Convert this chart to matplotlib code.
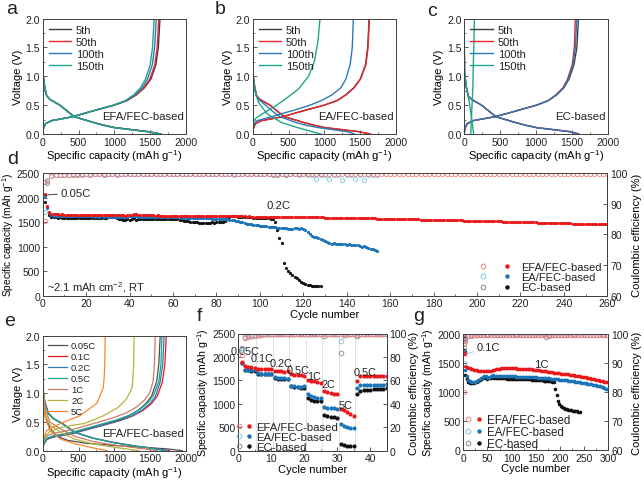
import matplotlib
matplotlib.use('Agg')
import matplotlib.pyplot as plt
from matplotlib.lines import Line2D
from matplotlib.legend_handler import HandlerTuple
from matplotlib.ticker import MultipleLocator, FormatStrFormatter

plt.rcParams['font.family'] = ['Liberation Sans', 'DejaVu Sans']
plt.rcParams['mathtext.default'] = 'regular'
plt.rcParams['axes.linewidth'] = 0.7
plt.rcParams['axes.edgecolor'] = '#404040'
plt.rcParams['xtick.color'] = '#404040'
plt.rcParams['ytick.color'] = '#404040'
plt.rcParams['text.color'] = '#222222'
plt.rcParams['xtick.labelcolor'] = '#222222'
plt.rcParams['ytick.labelcolor'] = '#222222'

TICK_FS = 7.5
LAB_FS = 8.0

# ---------------- panels a-c : voltage profiles ----------------
cyc_labels = ['5th', '50th', '100th', '150th']
cyc_colors = ['#3d3d3d', '#e8262b', '#2a7ab9', '#1fa58a']

dis_v_std = [1.5, 1.05, 0.8, 0.66, 0.6, 0.5, 0.4, 0.3, 0.2, 0.15, 0.11, 0.07, 0.04, 0.0]
chg_v_std = [0.02, 0.1, 0.18, 0.23, 0.26, 0.3, 0.35, 0.42, 0.5, 0.58, 0.68, 0.8, 0.95, 1.2, 1.5, 2.0]

a_dis_cap = [[0, 3, 30, 56, 100, 240, 340, 440, 710, 860, 1010, 1280, 1480, 1650],
             [0, 3, 30, 56, 100, 240, 340, 440, 710, 860, 1010, 1280, 1475, 1645],
             [0, 3, 30, 56, 100, 238, 338, 438, 705, 855, 1005, 1270, 1465, 1635],
             [0, 3, 30, 56, 100, 236, 335, 435, 700, 850, 995, 1260, 1455, 1625]]
a_dis_v = [dis_v_std, dis_v_std, dis_v_std, dis_v_std]
a_chg_cap = [[0, 10, 40, 120, 250, 420, 560, 760, 1000, 1180, 1310, 1420, 1510, 1580, 1614, 1637],
             [0, 10, 40, 120, 250, 420, 560, 760, 1000, 1178, 1305, 1410, 1495, 1565, 1598, 1620],
             [0, 10, 40, 120, 250, 420, 560, 760, 995, 1170, 1290, 1390, 1462, 1530, 1562, 1585],
             [0, 10, 40, 120, 250, 420, 560, 755, 985, 1155, 1272, 1365, 1435, 1500, 1533, 1555]]
a_chg_v = [chg_v_std, chg_v_std, chg_v_std, chg_v_std]

b_dis_cap = [[0, 3, 30, 56, 100, 240, 340, 440, 710, 860, 1010, 1280, 1480, 1640],
             [0, 3, 30, 56, 100, 240, 340, 440, 712, 865, 1015, 1285, 1485, 1645],
             [0, 3, 25, 50, 80, 180, 270, 380, 600, 750, 920, 1150, 1320, 1420],
             [0, 5, 30, 80, 200, 400, 600, 800, 950]]
b_dis_v = [dis_v_std, dis_v_std, dis_v_std, [1.3, 1.0, 0.75, 0.55, 0.35, 0.2, 0.12, 0.05, 0.0]]
b_chg_cap = [[0, 10, 40, 120, 250, 420, 560, 760, 1000, 1180, 1300, 1410, 1500, 1575, 1605, 1625],
             [0, 10, 40, 120, 250, 420, 560, 760, 1000, 1180, 1305, 1415, 1505, 1580, 1610, 1628],
             [0, 5, 20, 60, 150, 270, 400, 600, 800, 960, 1110, 1230, 1300, 1360, 1390, 1405],
             [0, 50, 150, 300, 450, 640, 780, 860, 910, 940]]
b_chg_v = [chg_v_std, chg_v_std, chg_v_std, [0.2, 0.28, 0.36, 0.47, 0.6, 0.78, 1.0, 1.25, 1.6, 2.0]]

c_dis_cap = [[0, 3, 30, 56, 100, 240, 340, 440, 710, 860, 1010, 1280, 1480, 1600],
             [0, 3, 30, 56, 100, 240, 340, 440, 710, 860, 1010, 1275, 1470, 1590],
             [0, 3, 30, 56, 100, 240, 340, 440, 710, 860, 1010, 1278, 1475, 1595],
             [0, 3, 30, 70, 100, 120, 130]]
c_dis_v = [dis_v_std, dis_v_std, dis_v_std, [1.8, 1.1, 0.8, 0.55, 0.3, 0.1, 0.0]]
c_chg_cap = [[0, 10, 40, 120, 250, 430, 580, 780, 1010, 1175, 1290, 1390, 1460, 1530, 1570, 1592],
             [0, 10, 40, 120, 250, 430, 580, 780, 1010, 1170, 1280, 1375, 1440, 1505, 1535, 1548],
             [0, 10, 40, 120, 250, 430, 580, 780, 1010, 1172, 1285, 1382, 1450, 1515, 1550, 1568],
             [90, 100, 110, 118, 126, 134, 140]]
c_chg_v = [chg_v_std, chg_v_std, chg_v_std, [0.0, 0.3, 0.55, 0.75, 1.2, 1.6, 2.0]]

# ---------------- panel e : rate profiles ----------------
e_labels = ['0.05C', '0.1C', '0.2C', '0.5C', '1C', '2C', '5C']
e_colors = ['#4d4d4d', '#e41a1c', '#2c7bb6', '#1aa391', '#c97b63', '#b8b13a', '#f7882f']
e_chg_v = [[0.02, 0.12, 0.2, 0.24, 0.27, 0.31, 0.37, 0.44, 0.52, 0.6, 0.7, 0.82, 0.95, 1.2, 1.5, 2.0],
           [0.02, 0.12, 0.2, 0.24, 0.27, 0.31, 0.37, 0.44, 0.52, 0.6, 0.7, 0.82, 0.95, 1.2, 1.5, 2.0],
           [0.02, 0.12, 0.2, 0.24, 0.27, 0.31, 0.37, 0.44, 0.52, 0.6, 0.7, 0.82, 0.95, 1.2, 1.5, 2.0],
           [0.04, 0.14, 0.22, 0.26, 0.29, 0.33, 0.39, 0.46, 0.54, 0.62, 0.72, 0.84, 0.97, 1.2, 1.5, 2.0],
           [0.08, 0.18, 0.26, 0.3, 0.33, 0.37, 0.43, 0.5, 0.58, 0.66, 0.76, 0.88, 1.0, 1.2, 1.5, 2.0],
           [0.12, 0.25, 0.33, 0.4, 0.44, 0.47, 0.54, 0.61, 0.75, 0.9, 1.1, 1.5, 2.0],
           [0.2, 0.35, 0.47, 0.61, 0.82, 1.1, 1.31, 1.6, 2.0]]
e_chg_cap = [[0, 15, 60, 150, 280, 430, 600, 800, 1020, 1190, 1330, 1440, 1520, 1590, 1620, 1640],
             [0, 15, 60, 150, 290, 450, 630, 840, 1070, 1250, 1400, 1520, 1600, 1670, 1705, 1725],
             [0, 15, 60, 150, 285, 445, 620, 830, 1055, 1235, 1380, 1495, 1575, 1640, 1675, 1695],
             [0, 15, 60, 150, 280, 440, 610, 815, 1040, 1215, 1360, 1470, 1550, 1620, 1650, 1665],
             [0, 15, 60, 150, 270, 420, 590, 790, 1000, 1170, 1310, 1420, 1490, 1540, 1560, 1570],
             [0, 30, 100, 250, 400, 570, 720, 850, 1050, 1170, 1250, 1270, 1275],
             [0, 56, 242, 521, 753, 846, 860, 868, 872]]
e_dis_v = [[1.0, 0.6, 0.4, 0.25, 0.18, 0.13, 0.09, 0.06, 0.03, 0.0],
           [1.1, 0.85, 0.65, 0.56, 0.47, 0.32, 0.22, 0.14, 0.08, 0.04, 0.0],
           [1.1, 0.85, 0.65, 0.56, 0.47, 0.32, 0.22, 0.14, 0.08, 0.04, 0.0],
           [1.1, 0.85, 0.65, 0.56, 0.47, 0.32, 0.22, 0.14, 0.08, 0.04, 0.0],
           [1.0, 0.7, 0.5, 0.38, 0.25, 0.16, 0.1, 0.05, 0.0],
           [1.0, 0.6, 0.45, 0.32, 0.2, 0.12, 0.06, 0.0],
           [1.8, 1.2, 0.6, 0.35, 0.2, 0.12, 0.05, 0.0]]
e_dis_cap = [[0, 40, 100, 200, 350, 600, 1000, 1400, 1750, 1950],
             [0, 30, 80, 150, 280, 450, 700, 1000, 1300, 1550, 1770],
             [0, 30, 80, 150, 280, 450, 700, 1000, 1300, 1540, 1745],
             [0, 25, 75, 140, 270, 440, 690, 990, 1290, 1510, 1700],
             [0, 40, 100, 250, 450, 700, 1000, 1300, 1600],
             [0, 40, 100, 250, 450, 700, 1000, 1350],
             [0, 5, 30, 100, 250, 450, 700, 900]]

# ---------------- series names / colours ----------------
ser_labels = ['EFA/FEC-based', 'EA/FEC-based', 'EC-based']
ser_fill = ['#e8191c', '#1a74b8', '#111111']
ser_open = ['#ef7f7f', '#80c3de', '#8a8a8a']

# ---------------- panel d : long cycling at 0.2C ----------------
d_cap_efa = [2080, 1820, 1700, 1668, 1660, 1655, 1657, 1652, 1655, 1650, 1652, 1648, 1650, 1647, 1650, 1646, 1648, 1645, 1647, 1644,
             1646, 1643, 1645, 1642, 1644, 1641, 1643, 1640, 1642, 1640, 1641, 1639, 1641, 1638, 1640, 1638, 1635, 1630, 1640, 1645,
             1650, 1660, 1655, 1642, 1638, 1637, 1638, 1636, 1637, 1635, 1636, 1634, 1635, 1633, 1634, 1632, 1633, 1631, 1632, 1630,
             1631, 1629, 1630, 1628, 1629, 1627, 1628, 1626, 1627, 1625, 1626, 1624, 1625, 1623, 1624, 1622, 1623, 1621, 1622, 1620,
             1621, 1619, 1620, 1618, 1619, 1617, 1618, 1616, 1617, 1615, 1616, 1614, 1615, 1613, 1614, 1612, 1613, 1611, 1612, 1610,
             1611, 1609, 1610, 1608, 1609, 1607, 1608, 1606, 1607, 1605, 1606, 1604, 1605, 1603, 1604, 1602, 1603, 1601, 1602, 1600,
             1600, 1598, 1599, 1597, 1598, 1596, 1596, 1594, 1595, 1593, 1593, 1591, 1592, 1590, 1590, 1588, 1589, 1587, 1587, 1585,
             1585, 1583, 1584, 1582, 1582, 1580, 1580, 1578, 1578, 1576, 1576, 1574, 1574, 1572, 1572, 1570, 1570, 1568, 1568, 1566,
             1565, 1564, 1563, 1562, 1561, 1560, 1559, 1558, 1557, 1556, 1555, 1554, 1553, 1552, 1551, 1550, 1549, 1548, 1547, 1546,
             1545, 1544, 1543, 1542, 1541, 1540, 1539, 1538, 1537, 1536, 1535, 1534, 1533, 1532, 1531, 1530, 1529, 1528, 1527, 1526,
             1525, 1524, 1523, 1521, 1520, 1519, 1518, 1516, 1515, 1514, 1513, 1511, 1510, 1509, 1508, 1506, 1505, 1504, 1503, 1501,
             1500, 1499, 1498, 1496, 1495, 1494, 1493, 1491, 1490, 1489, 1488, 1486, 1485, 1484, 1483, 1481, 1480, 1479, 1478, 1476,
             1475, 1474, 1473, 1471, 1470, 1469, 1468, 1466, 1465, 1464, 1463, 1461, 1460, 1459, 1458, 1456, 1455, 1454, 1453, 1451]
d_cap_ea = [2040, 1790, 1680, 1640, 1632, 1628, 1630, 1625, 1627, 1622, 1625, 1620, 1623, 1618, 1622, 1617, 1620, 1616, 1619, 1615,
            1618, 1614, 1617, 1613, 1616, 1612, 1615, 1611, 1614, 1610, 1613, 1609, 1612, 1608, 1611, 1607, 1610, 1606, 1612, 1620,
            1625, 1615, 1622, 1610, 1612, 1608, 1611, 1607, 1610, 1606, 1609, 1605, 1608, 1604, 1607, 1603, 1605, 1600, 1602, 1598,
            1598, 1595, 1596, 1592, 1593, 1590, 1590, 1586, 1587, 1583, 1583, 1580, 1580, 1577, 1577, 1574, 1574, 1571, 1571, 1568,
            1566, 1562, 1560, 1556, 1554, 1550, 1548, 1540, 1530, 1520, 1505, 1495, 1480, 1470, 1465, 1455, 1445, 1440, 1432, 1426,
            1420, 1415, 1410, 1405, 1400, 1395, 1390, 1385, 1380, 1375, 1378, 1372, 1368, 1365, 1362, 1370, 1375, 1368, 1372, 1360,
            1330, 1290, 1250, 1220, 1200, 1190, 1170, 1150, 1130, 1110, 1090, 1080, 1060, 1065, 1050, 1055, 1045, 1060, 1050, 1040,
            1045, 1035, 1040, 1030, 1025, 1010, 1000, 1005, 990, 975, 960, 945, 930, 915]
d_cap_ec = [1900, 1800, 1650, 1610, 1598, 1595, 1592, 1594, 1590, 1592, 1589, 1591, 1588, 1590, 1587, 1589, 1586, 1588, 1585, 1587,
            1585, 1587, 1584, 1586, 1583, 1585, 1584, 1586, 1583, 1600, 1610, 1620, 1600, 1590, 1570, 1560, 1545, 1550, 1555, 1540,
            1560, 1575, 1550, 1560, 1565, 1558, 1562, 1556, 1560, 1555, 1558, 1562, 1560, 1564, 1566, 1568, 1570, 1572, 1568, 1565,
            1560, 1555, 1548, 1540, 1530, 1520, 1512, 1505, 1500, 1496, 1493, 1490, 1490, 1488, 1490, 1487, 1490, 1492, 1488, 1495,
            1498, 1502, 1505, 1520, 1560, 1610, 1620, 1622, 1615, 1612, 1608, 1605, 1602, 1600, 1598, 1595, 1592, 1590, 1588, 1585,
            1583, 1580, 1578, 1575, 1570, 1560, 1500, 1330, 1180, 1070, 660, 560, 510, 463, 422, 388, 354, 320, 286, 259,
            238, 225, 211, 204, 198, 193, 190, 190]
# coulombic efficiency (cycles 1, 2, then every 2nd cycle from 4)
d_ce_efa = [84.5, 97.5,
            99.1, 99.3, 99.4, 99.5, 99.5, 99.6, 99.5, 99.6, 99.6, 99.5, 99.6, 99.7, 99.6, 99.6, 99.7, 99.5, 99.6, 99.7, 99.6, 99.7,
            99.6, 99.7, 99.7, 99.6, 99.7, 99.8, 99.7, 99.6, 99.7, 99.7, 99.8, 99.7, 99.7, 99.8, 99.6, 99.7, 99.8, 99.7, 99.7, 99.8,
            99.7, 99.8, 99.7, 99.7, 99.8, 99.7, 99.8, 99.8, 99.7, 99.8, 99.7, 99.8, 99.8, 99.7, 99.8, 99.8, 99.7, 99.8, 99.8, 99.7,
            99.8, 99.8, 99.7, 99.8, 99.8, 99.8, 99.7, 99.8, 99.8, 99.8, 99.7, 99.8, 99.8, 99.8, 99.8, 99.7, 99.8, 99.8, 99.8, 99.8,
            99.8, 99.7, 99.8, 99.8, 99.8, 99.8, 99.8, 99.7, 99.8, 99.8, 99.8, 99.8, 99.8, 99.8, 99.7, 99.8, 99.8, 99.8, 99.8, 99.8,
            99.8, 99.8, 99.7, 99.8, 99.8, 99.8, 99.8, 99.8, 99.8, 99.7, 99.8, 99.8, 99.8, 99.8, 99.8, 99.8, 99.8, 99.8, 99.7, 99.8,
            99.8, 99.8, 99.8, 99.8, 99.8, 99.8, 99.8, 99.8, 99.8]
d_ce_ea = [87.2, 97.8,
           99.0, 99.2, 99.4, 99.5, 99.5, 99.6, 99.5, 99.6, 99.6, 99.7, 99.6, 99.6, 99.7, 99.6, 99.7, 99.6, 99.7, 99.7, 99.6, 99.7,
           99.7, 99.6, 99.7, 99.7, 99.7, 99.6, 99.7, 99.7, 99.7, 99.6, 99.7, 99.7, 99.6, 99.7, 99.7, 99.7, 99.6, 99.7, 99.7, 99.7,
           99.6, 99.7, 99.5, 99.7, 99.7, 99.6, 99.7, 99.7, 99.6, 99.7, 99.6, 99.7, 99.6, 99.7, 99.6, 99.7, 99.6, 99.5, 99.6, 99.5,
           99.5, 97.9, 99.4, 99.5, 98.1, 99.5, 99.4, 97.8, 99.5, 99.4, 98.0, 99.4, 97.7, 99.5, 99.4, 99.3]
d_ce_ec = [97.0, 96.6,
           99.0, 99.2, 99.3, 99.4, 99.5, 99.5, 99.6, 99.5, 99.6, 99.5, 99.6, 99.6, 99.5, 99.6, 99.6, 99.7, 99.6, 99.6, 99.7, 99.6,
           99.6, 99.7, 99.6, 99.7, 99.6, 99.7, 99.7, 99.6, 99.7, 99.7, 99.6, 99.7, 99.7, 99.7, 99.6, 99.7, 99.7, 99.8, 99.7, 99.7,
           99.7, 99.7, 99.6, 99.7, 99.7, 99.7, 99.6, 99.7, 99.7, 99.7, 99.6, 99.5, 99.3, 99.8, 99.5, 99.7, 99.8, 99.8, 99.7, 99.8,
           99.8, 99.7, 99.8]

# ---------------- panel f : rate capability ----------------
f_rate_names = ['0.05C', '0.1C', '0.2C', '0.5C', '1C', '2C', '5C', '0.5C']
f_rate_x = [2.0, 7.2, 13.0, 18.2, 23.0, 27.4, 32.4, 38.3]
f_rate_y = [2130, 1970, 1865, 1730, 1600, 1425, 975, 1670]
f_bounds = [5.5, 10.5, 15.5, 20.5, 25.5, 30.5, 35.5]
f_cap_efa = [1900, 1800, 1790, 1780, 1770, 1750, 1745, 1745, 1745, 1750, 1700, 1690, 1690, 1680, 1700,
             1630, 1620, 1610, 1610, 1600, 1500, 1490, 1480, 1460, 1440, 1280, 1260, 1240, 1220, 1210,
             880, 860, 830, 790, 750, 1490, 1590, 1592, 1595, 1590, 1595, 1595, 1598, 1595, 1600]
f_cap_ea = [1880, 1730, 1730, 1725, 1720, 1650, 1645, 1640, 1640, 1640, 1570, 1560, 1550, 1545, 1540,
            1390, 1375, 1365, 1360, 1385, 1200, 1160, 1140, 1125, 1120, 940, 920, 910, 905, 900,
            560, 520, 500, 490, 480, 1340, 1400, 1405, 1405, 1410, 1410, 1405, 1410, 1410, 1415]
f_cap_ec = [1870, 1720, 1720, 1710, 1710, 1645, 1640, 1635, 1635, 1630, 1550, 1540, 1530, 1525, 1520,
            1380, 1360, 1350, 1340, 1340, 1120, 1090, 1070, 1060, 1050, 760, 730, 720, 710, 700,
            150, 120, 110, 110, 110, 1210, 1280, 1290, 1290, 1300, 1310, 1320, 1320, 1325, 1330]
f_ce_efa = [82.0, 96.5, 97.3, 97.8, 98.2, 98.8, 99.1, 99.2, 99.3, 99.3, 99.2, 99.4, 99.5, 99.5, 99.5,
            99.3, 99.5, 99.6, 99.6, 99.6, 99.4, 99.6, 99.7, 99.7, 99.7, 99.5, 99.7, 99.7, 99.8, 99.8,
            99.4, 99.8, 99.8, 99.8, 99.8, 98.8, 99.5, 99.6, 99.6, 99.7, 99.7, 99.7, 99.7, 99.7, 99.7]
f_ce_ea = [85.5, 97.0, 97.8, 98.2, 98.5, 98.9, 99.1, 99.2, 99.3, 99.3, 99.2, 99.4, 99.4, 99.5, 99.5,
           99.3, 99.5, 99.5, 99.6, 99.6, 99.3, 99.6, 99.6, 99.7, 99.7, 99.4, 99.6, 99.7, 99.7, 99.7,
           94.0, 99.6, 99.7, 99.7, 99.8, 98.5, 99.4, 99.5, 99.6, 99.6, 99.6, 99.7, 99.7, 99.7, 99.7]
f_ce_ec = [88.0, 97.4, 98.0, 98.4, 98.6, 99.0, 99.2, 99.3, 99.3, 99.4, 99.2, 99.4, 99.5, 99.5, 99.5,
           99.2, 99.5, 99.5, 99.6, 99.6, 99.2, 99.5, 99.6, 99.6, 99.6, 97.8, 99.5, 99.6, 99.6, 99.7,
           83.0, 99.0, 99.4, 99.5, 99.5, 98.0, 99.3, 99.5, 99.5, 99.6, 99.6, 99.6, 99.7, 99.7, 99.7]

# ---------------- panel g : 1C cycling (cycles 1-3, then every 3rd cycle from 4) ----------------
g_cap_efa = [1900, 1680, 1650,
             1440, 1430, 1420, 1410, 1400, 1392, 1386, 1380, 1374, 1369, 1366, 1363, 1360, 1358, 1358, 1359, 1362,
             1366, 1370, 1376, 1382, 1388, 1395, 1400, 1405, 1408, 1410, 1411, 1412, 1412, 1411, 1411, 1410,
             1409, 1408, 1407, 1405, 1404, 1402, 1400, 1399, 1397, 1396, 1394, 1392, 1390, 1388, 1386, 1383, 1380,
             1377, 1374, 1370, 1367, 1363, 1359, 1355, 1351, 1347, 1343, 1340, 1336, 1332, 1328, 1324, 1320,
             1318, 1315, 1312, 1309, 1306, 1303, 1300, 1296, 1291, 1287, 1282, 1278, 1273, 1269, 1264, 1260, 1255,
             1251, 1246, 1242, 1237, 1232, 1226, 1220, 1214, 1208, 1200, 1194, 1188, 1182, 1176, 1170, 1164]
g_cap_ea = [1880, 1700, 1670,
            1380, 1280, 1210, 1185, 1175, 1170, 1172, 1178, 1188, 1200, 1220, 1240, 1260, 1280, 1270, 1255, 1250,
            1258, 1280, 1295, 1280, 1270, 1268, 1270, 1272, 1274, 1275, 1275, 1274, 1273, 1272, 1271, 1270,
            1269, 1268, 1267, 1267, 1266, 1265, 1265, 1264, 1263, 1262, 1261, 1260, 1259, 1258, 1256, 1254, 1252,
            1250, 1248, 1246, 1244, 1242, 1240, 1238, 1236, 1234, 1232, 1230, 1227, 1224, 1221, 1218, 1215,
            1212, 1209, 1206, 1203, 1200, 1197, 1194, 1190, 1186, 1182, 1178, 1174, 1170, 1166, 1162, 1158, 1154,
            1150, 1145, 1140, 1135, 1130, 1125, 1120, 1114, 1108, 1102, 1096, 1090, 1080, 1070, 1060, 1050]
g_cap_ec = [1950, 1720, 1690,
            1300, 1220, 1165, 1150, 1148, 1150, 1155, 1165, 1175, 1190, 1205, 1220, 1235, 1265, 1245, 1232, 1235,
            1240, 1250, 1255, 1245, 1240, 1238, 1237, 1236, 1235, 1235, 1234, 1233, 1232, 1231, 1230, 1230,
            1229, 1228, 1228, 1227, 1226, 1225, 1224, 1223, 1222, 1221, 1220, 1218, 1216, 1214, 1212, 1210, 1208,
            1206, 1204, 1202, 1200, 1198, 1196, 1194, 1192, 1188, 1184, 1178, 1170, 1060, 940, 850, 790,
            760, 740, 725, 712, 702, 694, 688, 682, 677, 672, 668, 664, 660, 657]
# coulombic efficiency (cycles 1-3, then every 6th cycle from 4)
g_ce_efa = [80.0, 96.5, 97.5,
            99.0, 99.4, 99.6, 99.7, 99.7, 99.8, 99.7, 99.8, 99.8, 99.8, 99.8, 99.8, 99.7, 99.8, 99.8, 99.8, 99.8,
            99.8, 99.8, 99.7, 99.8, 99.8, 99.8, 99.8, 99.8, 99.8, 99.8, 99.8, 99.7, 99.8, 99.8, 99.8, 99.8, 99.8,
            99.8, 99.8, 99.8, 99.7, 99.8, 99.8, 99.8, 99.8, 99.8, 99.8, 99.8, 99.8, 99.8, 99.8, 99.8, 99.8]
g_ce_ea = [90.0, 97.0, 98.0,
           98.8, 99.3, 99.5, 99.6, 99.6, 99.7, 99.7, 99.7, 99.7, 99.8, 99.7, 99.7, 99.7, 99.8, 99.7, 99.7, 99.7,
           99.7, 99.8, 99.7, 99.7, 99.7, 99.7, 99.8, 99.7, 99.7, 99.7, 99.7, 99.7, 99.8, 99.7, 99.7, 99.7, 99.7,
           99.7, 99.7, 99.8, 99.7, 99.7, 99.7, 99.7, 99.7, 99.7, 99.7, 99.7, 99.7, 99.7, 99.7, 99.7, 99.7]
g_ce_ec = [95.0, 97.8, 98.5,
           98.6, 99.2, 99.4, 99.5, 99.6, 99.6, 99.7, 99.7, 99.7, 99.7, 99.6, 99.7, 99.7, 99.7, 99.7, 99.7, 99.6,
           99.7, 99.7, 99.7, 99.7, 99.7, 99.7, 99.6, 99.7, 99.7, 99.7, 99.7, 99.0, 99.4, 99.7, 99.7, 99.7, 99.8,
           99.8, 99.8, 99.8, 99.8, 99.8]

# ================= drawing =================
W, H = 644, 481
fig = plt.figure(figsize=(W / 100, H / 100), dpi=100)


def rect(l, r, t, b):
    return [l / W, 1 - b / H, (r - l) / W, (b - t) / H]


def style(ax, xmaj, xmin, ymaj, ymin):
    ax.xaxis.set_major_locator(MultipleLocator(xmaj))
    ax.xaxis.set_minor_locator(MultipleLocator(xmin))
    ax.yaxis.set_major_locator(MultipleLocator(ymaj))
    if ymin:
        ax.yaxis.set_minor_locator(MultipleLocator(ymin))
    ax.tick_params(which='both', direction='in', labelsize=TICK_FS, pad=2)
    ax.tick_params(which='major', length=3, width=0.6)
    ax.tick_params(which='minor', length=1.6, width=0.5)


def volt_panel(ax, chg_cap, chg_v, dis_cap, dis_v, colors, labels, tag, leg_fs, leg_sp, lw=1.0):
    for i in range(len(labels)):
        ax.plot(dis_cap[i], dis_v[i], color=colors[i], lw=lw)
        ax.plot(chg_cap[i], chg_v[i], color=colors[i], lw=lw, label=labels[i])
    ax.set_xlim(0, 2000)
    ax.set_ylim(0, 2.0)
    style(ax, 500, 250, 0.5, 0.25)
    ax.yaxis.set_major_formatter(FormatStrFormatter('%.1f'))
    ax.set_xlabel('Specific capacity (mAh g$^{-1}$)', fontsize=LAB_FS, labelpad=0.5)
    ax.set_ylabel('Voltage (V)', fontsize=LAB_FS, labelpad=2)
    ax.legend(loc='upper left', frameon=False, fontsize=leg_fs, handlelength=2.0, handletextpad=0.45,
              labelspacing=leg_sp, borderaxespad=0.3, borderpad=0.25)
    ax.text(0.985, 0.155, tag, transform=ax.transAxes, ha='right', va='center', fontsize=8.2)


ax_a = fig.add_axes(rect(42.7, 186, 19.5, 135))
volt_panel(ax_a, a_chg_cap, a_chg_v, a_dis_cap, a_dis_v, cyc_colors, cyc_labels, 'EFA/FEC-based', 8, 0.2)
ax_b = fig.add_axes(rect(252.7, 396, 19.5, 135))
volt_panel(ax_b, b_chg_cap, b_chg_v, b_dis_cap, b_dis_v, cyc_colors, cyc_labels, 'EA/FEC-based', 8, 0.2)
ax_c = fig.add_axes(rect(464.3, 607.7, 19.5, 135))
volt_panel(ax_c, c_chg_cap, c_chg_v, c_dis_cap, c_dis_v, cyc_colors, cyc_labels, 'EC-based', 8, 0.2)
ax_e = fig.add_axes(rect(42.7, 186, 336.7, 451.7))
volt_panel(ax_e, e_chg_cap, e_chg_v, e_dis_cap, e_dis_v, e_colors, e_labels, 'EFA/FEC-based', 6.8, 0.22, lw=0.9)


def ser_legend(ax, fs, hl, sp, loc, anchor):
    handles = []
    for i in range(3):
        h_open = Line2D([], [], ls='none', marker='o', ms=3.4, mfc='none', mec=ser_open[i], mew=0.7)
        h_fill = Line2D([], [], ls='none', marker='o', ms=3.2, color=ser_fill[i], mew=0)
        handles.append((h_open, h_fill))
    ax.legend(handles, ser_labels, handler_map={tuple: HandlerTuple(ndivide=None, pad=0)}, frameon=False,
              fontsize=fs, handlelength=hl, handletextpad=0.2, labelspacing=sp, borderaxespad=0.2,
              borderpad=0.2, loc=loc, bbox_to_anchor=anchor)


def cycle_series(ax, ax2, caps, ces, cap_x, ce_x, ms_fill=2.4, ms_open=3.2):
    for i in (2, 1, 0):
        ax2.plot(ce_x[i], ces[i], ls='none', marker='o', ms=ms_open, mfc='none', mec=ser_open[i], mew=0.6)
    for i in (2, 1, 0):
        ax.plot(cap_x[i], caps[i], ls='none', marker='o', ms=ms_fill, color=ser_fill[i], mew=0)


# ---- panel d ----
ax_d = fig.add_axes(rect(42.7, 607.3, 174, 296.7))
ax_d2 = ax_d.twinx()
d_caps = [d_cap_efa, d_cap_ea, d_cap_ec]
d_ces = [d_ce_efa, d_ce_ea, d_ce_ec]
d_cap_x = [list(range(1, len(v) + 1)) for v in d_caps]
d_ce_x = [[1, 2] + list(range(4, 4 + 2 * (len(v) - 2), 2)) for v in d_ces]
cycle_series(ax_d, ax_d2, d_caps, d_ces, d_cap_x, d_ce_x, ms_fill=2.3, ms_open=3.0)
ax_d.set_xlim(0, 260)
ax_d.set_ylim(0, 2500)
ax_d2.set_ylim(60, 100)
style(ax_d, 20, 10, 500, None)
style(ax_d2, 20, 10, 10, None)
ax_d.set_xlabel('Cycle number', fontsize=LAB_FS, labelpad=0.5)
ax_d.set_ylabel('Specific capacity (mAh g$^{-1}$)', fontsize=7.3, labelpad=0.5)
ax_d2.set_ylabel('Coulombic efficiency (%)', fontsize=LAB_FS, labelpad=3)
ax_d.annotate('0.05C', xy=(1.6, 2050), xytext=(8, 2100), fontsize=8.2, va='center',
              arrowprops=dict(arrowstyle='-', lw=0.6, color='#222222', shrinkA=0, shrinkB=0))
ax_d.text(108.5, 1852, '0.2C', fontsize=8.2, ha='center', va='center')
ax_d.text(1.8, 187, '~2.1 mAh cm$^{-2}$, RT', fontsize=8, ha='left', va='center')
ser_legend(ax_d2, 8, 4.3, 0.02, 'lower right', (0.998, -0.01))

# ---- panel f ----
ax_f = fig.add_axes(rect(238.3, 386.7, 334.5, 451.7))
ax_f2 = ax_f.twinx()
for xb in f_bounds:
    ax_f.axvline(xb, color='#dcdcdc', lw=0.6, zorder=0)
f_caps = [f_cap_efa, f_cap_ea, f_cap_ec]
f_ces = [f_ce_efa, f_ce_ea, f_ce_ec]
f_x = [list(range(1, len(v) + 1)) for v in f_caps]
cycle_series(ax_f, ax_f2, f_caps, f_ces, f_x, f_x, ms_fill=3.0, ms_open=3.4)
ax_f.set_xlim(0, 45)
ax_f.set_ylim(0, 2500)
ax_f2.set_ylim(0, 100)
style(ax_f, 10, 5, 500, None)
style(ax_f2, 10, 5, 20, None)
ax_f.set_xlabel('Cycle number', fontsize=LAB_FS, labelpad=0.5)
ax_f.set_ylabel('Specific capacity (mAh g$^{-1}$)', fontsize=7.6, labelpad=1)
ax_f2.set_ylabel('Coulombic efficiency (%)', fontsize=LAB_FS, labelpad=1.5)
for nm, xx, yy in zip(f_rate_names, f_rate_x, f_rate_y):
    ax_f.text(xx, yy, nm, fontsize=7.8, ha='center', va='center')
ser_legend(ax_f2, 8.2, 1.75, 0.0, 'lower left', (-0.058, -0.05))

# ---- panel g ----
ax_g = fig.add_axes(rect(463.3, 608.3, 335, 451))
ax_g2 = ax_g.twinx()
g_caps = [g_cap_efa, g_cap_ea, g_cap_ec]
g_ces = [g_ce_efa, g_ce_ea, g_ce_ec]
g_cap_x = [[1, 2, 3] + list(range(4, 4 + 3 * (len(v) - 3), 3)) for v in g_caps]
g_ce_x = [[1, 2, 3] + list(range(4, 4 + 6 * (len(v) - 3), 6)) for v in g_ces]
cycle_series(ax_g, ax_g2, g_caps, g_ces, g_cap_x, g_ce_x, ms_fill=2.6, ms_open=3.2)
ax_g.set_xlim(0, 300)
ax_g.set_ylim(0, 2000)
ax_g2.set_ylim(60, 100)
style(ax_g, 50, 25, 500, None)
style(ax_g2, 50, 25, 10, None)
ax_g.set_xlabel('Cycle number', fontsize=LAB_FS, labelpad=0.5)
ax_g.set_ylabel('Specific capacity (mAh g$^{-1}$)', fontsize=7.6, labelpad=1)
ax_g2.set_ylabel('Coulombic efficiency (%)', fontsize=LAB_FS, labelpad=2.5)
ax_g.annotate('0.1C', xy=(5, 1650), xytext=(27, 1776), fontsize=8, va='center',
              arrowprops=dict(arrowstyle='-', lw=0.6, color='#9ec5dd', shrinkA=0, shrinkB=0))
ax_g.text(161, 1483, '1C', fontsize=8.2, ha='center', va='center')
ser_legend(ax_g2, 8.3, 1.9, 0.0, 'lower left', (-0.037, -0.04))

# ---- panel letters ----
for lt, px, py in [('a', 11.5, 10), ('b', 220.5, 9), ('c', 432, 11), ('d', 13, 160),
                   ('e', 10, 322), ('f', 199, 317), ('g', 419, 317)]:
    fig.text(px / W, 1 - py / H, lt, fontsize=14, ha='center', va='center')

fig.savefig('out.png', dpi=100)
